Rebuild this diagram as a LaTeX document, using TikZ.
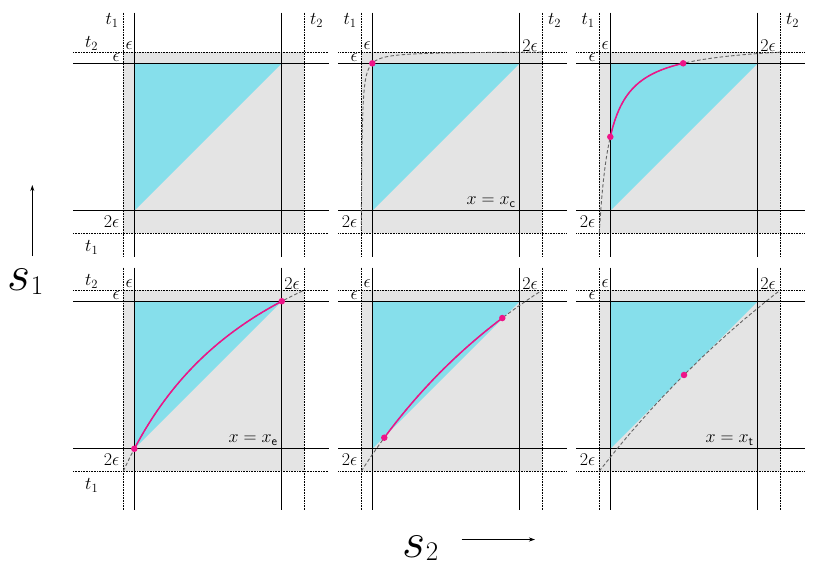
\RequirePackage{fix-cm}
\documentclass[tikz,border=0pt]{standalone}
\usepackage{amsmath}
\usetikzlibrary{arrows.meta}
\definecolor{tric}{RGB}{134,223,235}
\definecolor{boxc}{RGB}{228,228,228}
\definecolor{magc}{RGB}{238,20,136}
\definecolor{crvc}{RGB}{100,100,100}
\tikzset{
  solidln/.style={black, line width=1.3pt},
  dotln/.style={black, line width=1pt, dash pattern=on 0.8pt off 0.8pt},
  crvln/.style={crvc, line width=0.9pt, dash pattern=on 3.5pt off 2.2pt},
  magln/.style={magc, line width=1.5pt},
  lbl/.style={font=\fontsize{18}{20}\selectfont, inner sep=0pt},
  biglbl/.style={font=\fontsize{50}{52}\selectfont, inner sep=0pt, anchor=base west},
  dotpt/.style={circle, fill=magc, inner sep=0pt, minimum size=6.5pt},
  axarrow/.style={line width=0.9pt, -{Stealth[length=6pt,width=4pt]}},
}
\newcommand{\bigsub}[2]{\raisebox{#1}{\fontsize{27}{29}\selectfont$#2$}}
% #1 L, #2 T, #3 left extension, #4 top y of verticals, #5 bottom y of verticals
\newcommand{\mypanel}[5]{%
  \pgfmathsetmacro\pL{#1}\pgfmathsetmacro\pT{#2}%
  \pgfmathsetmacro\pR{#1+147.5}\pgfmathsetmacro\pB{#2+147.5}%
  \pgfmathsetmacro\hA{#1-#3}\pgfmathsetmacro\hB{\pR+47}%
  \fill[boxc] (\pL-11,\pT-11) rectangle (\pR+22.5,\pB+22.3);
  \fill[tric] (\pL,\pT) -- (\pR,\pT) -- (\pL,\pB) -- cycle;
  \draw[dotln] (\hA,\pT-11) -- (\hB,\pT-11) (\hA,\pB+22.3) -- (\hB,\pB+22.3)
    (\pL-11,#4) -- (\pL-11,#5) (\pR+22.5,#4) -- (\pR+22.5,#5);
  \draw[solidln] (\hA,\pT) -- (\hB,\pT) (\hA,\pB) -- (\hB,\pB)
    (\pL,#4) -- (\pL,#5) (\pR,#4) -- (\pR,#5);
}
% #1 style, #2 L, #3 T, #4 a, #5 u0, #6 u1
\newcommand{\hcurve}[6]{%
  \pgfmathsetmacro\ox{#2-11}\pgfmathsetmacro\oy{#3+147.5+22.3}%
  \pgfmathsetmacro\dA{ln(#5+#4)}\pgfmathsetmacro\dB{ln(#6+#4)}%
  \draw[#1] plot[variable=\vv, domain=\dA:\dB, samples=160, smooth]
    ({\ox+181*(exp(\vv)-#4)},{\oy-181*(1+#4-#4*(1+#4)*exp(-\vv))});
}
% #1 name, #2 L, #3 T, #4 a, #5 u
\newcommand{\hdot}[5]{%
  \pgfmathsetmacro\ox{#2-11}\pgfmathsetmacro\oy{#3+147.5+22.3}%
  \node[dotpt] (#1) at ({\ox+181*#5},{\oy-181*#5*(1+#4)/(#5+#4)}) {};
}
\begin{document}
\begin{tikzpicture}[x=1pt,y=-1pt]
\useasboundingbox (0,0) rectangle (830,568);
% panels
\mypanel{134.3}{63.3}{61.3}{12.7}{257}
\mypanel{372.3}{63.3}{34}{12.7}{257}
\mypanel{610.3}{63.3}{34}{12.7}{257}
\mypanel{134.3}{301.3}{61.3}{267.7}{510}
\mypanel{372.3}{301.3}{34}{267.7}{510}
\mypanel{610.3}{301.3}{34}{267.7}{510}
% curves
\hcurve{crvln}{372.3}{63.3}{0.0043}{0}{1}
\hdot{tm-p}{372.3}{63.3}{0.0043}{0.0608}
\hcurve{crvln}{610.3}{63.3}{0.0605}{0}{1}
\hcurve{magln}{610.3}{63.3}{0.0605}{0.0608}{0.4633}
\hdot{tr-p1}{610.3}{63.3}{0.0605}{0.0608}
\hdot{tr-p2}{610.3}{63.3}{0.0605}{0.4633}
\hcurve{crvln}{134.3}{301.3}{0.854}{0}{1}
\hcurve{magln}{134.3}{301.3}{0.854}{0.0608}{0.8757}
\hdot{bl-p1}{134.3}{301.3}{0.854}{0.0608}
\hdot{bl-p2}{134.3}{301.3}{0.854}{0.8757}
\hcurve{crvln}{372.3}{301.3}{1.80}{0}{1}
\hcurve{magln}{372.3}{301.3}{1.80}{0.127}{0.779}
\hdot{bm-p1}{372.3}{301.3}{1.80}{0.127}
\hdot{bm-p2}{372.3}{301.3}{1.80}{0.779}
\hcurve{crvln}{610.3}{301.3}{3.48}{0}{1}
\hdot{br-p}{610.3}{301.3}{3.48}{0.468}
% labels top-left
\node[lbl, anchor=east] (tl-t1a) at (118.8,20.3) {$t_1$};
\node[lbl, anchor=west] (tl-t2a) at (309.8,20.3) {$t_2$};
\node[lbl, anchor=east] (tl-t2b) at (98.3,43.3) {$t_2$};
\node[lbl] (tl-e1) at (129.1,45.3) {$\epsilon$};
\node[lbl] (tl-e2) at (116.3,57.8) {$\epsilon$};
\node[lbl] (tl-e3) at (111.5,221.3) {$2\epsilon$};
\node[lbl] (tl-t1b) at (91.7,247.3) {$t_1$};
% labels top-middle
\node[lbl, anchor=east] (tm-t1) at (356.8,20.3) {$t_1$};
\node[lbl, anchor=west] (tm-t2) at (547.8,20.3) {$t_2$};
\node[lbl] (tm-e1) at (367.1,45.3) {$\epsilon$};
\node[lbl] (tm-e2) at (354.3,57.8) {$\epsilon$};
\node[lbl] (tm-e4) at (530.1,45.3) {$2\epsilon$};
\node[lbl] (tm-e3) at (349.5,221.3) {$2\epsilon$};
\node[lbl, anchor=base east] (tm-x) at (515.8,204.5) {$x = x_{\mathsf{c}}$};
% labels top-right
\node[lbl, anchor=east] (tr-t1) at (594.8,20.3) {$t_1$};
\node[lbl, anchor=west] (tr-t2) at (785.8,20.3) {$t_2$};
\node[lbl] (tr-e1) at (605.1,45.3) {$\epsilon$};
\node[lbl] (tr-e2) at (592.3,57.8) {$\epsilon$};
\node[lbl] (tr-e4) at (768.1,45.3) {$2\epsilon$};
\node[lbl] (tr-e3) at (587.5,221.3) {$2\epsilon$};
% labels bottom-left
\node[lbl, anchor=east] (bl-t2) at (98.3,281.3) {$t_2$};
\node[lbl] (bl-e1) at (129.1,283.3) {$\epsilon$};
\node[lbl] (bl-e2) at (116.3,295.8) {$\epsilon$};
\node[lbl] (bl-e4) at (292.1,283.3) {$2\epsilon$};
\node[lbl] (bl-e3) at (111.5,459.3) {$2\epsilon$};
\node[lbl] (bl-t1) at (91.7,485.3) {$t_1$};
\node[lbl, anchor=base east] (bl-x) at (277.8,442.5) {$x = x_{\mathsf{e}}$};
% labels bottom-middle
\node[lbl] (bm-e1) at (367.1,283.3) {$\epsilon$};
\node[lbl] (bm-e2) at (354.3,295.8) {$\epsilon$};
\node[lbl] (bm-e4) at (530.1,283.3) {$2\epsilon$};
\node[lbl] (bm-e3) at (349.5,459.3) {$2\epsilon$};
% labels bottom-right
\node[lbl] (br-e1) at (605.1,283.3) {$\epsilon$};
\node[lbl] (br-e2) at (592.3,295.8) {$\epsilon$};
\node[lbl] (br-e4) at (768.1,283.3) {$2\epsilon$};
\node[lbl] (br-e3) at (587.5,459.3) {$2\epsilon$};
\node[lbl, anchor=base east] (br-x) at (753.8,442.5) {$x = x_{\mathsf{t}}$};
% axes
\node[biglbl] (s1) at (7.5,290) {$s$\bigsub{-4pt}{1}};
\node[biglbl] (s2) at (402.5,557) {$s$\bigsub{-3pt}{2}};
\coordinate (s1a) at (32.3,256);
\coordinate (s1b) at (32.3,185);
\coordinate (s2a) at (461.7,539.5);
\coordinate (s2b) at (535,539.5);
\draw[axarrow] (s1a) -- (s1b);
\draw[axarrow] (s2a) -- (s2b);
\end{tikzpicture}
\end{document}
